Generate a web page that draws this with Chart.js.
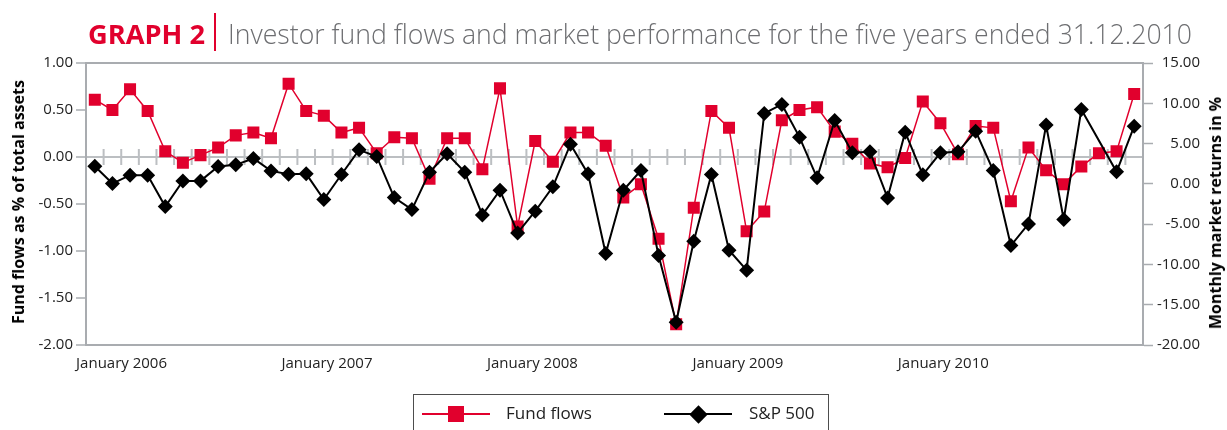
<!DOCTYPE html>
<html>
<head>
<meta charset="utf-8">
<script src="https://cdn.jsdelivr.net/npm/chart.js@4.4.0/dist/chart.umd.min.js"></script>
<style>
  body { margin: 0; background: #fff; font-family: "Open Sans", sans-serif; }
  #wrap { position: relative; width: 1227px; height: 430px; overflow: hidden; }
  #gradesChart { position: absolute; left: 0; top: 0; }
  .title { position: absolute; top: 20px; font-size: 27px; line-height: 27px; white-space: nowrap; transform-origin: left center; }
  #g2 { left: 88px; color: #e1002d; font-weight: 700; }
  #sep { position: absolute; left: 214px; top: 13px; width: 2px; height: 38px; background: #e1002d; }
  #tt { left: 228px; color: #6d6e71; font-weight: 300; }
  .axis-title { position: absolute; font-size: 16px; font-weight: 700; color: #000; white-space: nowrap;
    transform: translate(-50%, -50%) rotate(-90deg); }
  #chart-legend { position: absolute; left: 413px; top: 394px; width: 416px; height: 60px;
    border: 1.5px solid #4d4d4d; box-sizing: border-box; }
  .key-line { position: absolute; height: 2px; top: 18px; }
  .key-mark { position: absolute; }
  .key-text { position: absolute; top: 6px; font-size: 17px; line-height: 24px; color: #222; margin: 0; }
</style>
</head>
<body>
<div id="wrap">
  <canvas id="gradesChart" width="1227" height="430"></canvas>
  <div class="title" id="g2">GRAPH 2</div>
  <div id="sep"></div>
  <div class="title" id="tt">Investor fund flows and market performance for the five years ended 31.12.2010</div>
  <div class="axis-title" style="left:18px; top:202px;">Fund flows as % of total assets</div>
  <div class="axis-title" style="left:1215px; top:213px;">Monthly market returns in %</div>
  <div id="chart-legend"></div>
</div>
<script>
// months Jan 2006 .. Dec 2010
const years = [2006, 2007, 2008, 2009, 2010];
const monthNames = ['January', 'February', 'March', 'April', 'May', 'June',
    'July', 'August', 'September', 'October', 'November', 'December'];
const categories = years.flatMap(y => monthNames.map(m => m + ' ' + y));
const tickLabels = ['January 2006', 'January 2007', 'January 2008', 'January 2009', 'January 2010'];

// fund flows, % of total assets (left axis)
const fundFlows = [0.61, 0.50, 0.72, 0.49, 0.06, -0.06, 0.02, 0.10, 0.23, 0.26,
    0.20, 0.78, 0.49, 0.44, 0.26, 0.31, 0.04, 0.21, 0.20, -0.23,
    0.20, 0.20, -0.13, 0.73, -0.74, 0.17, -0.05, 0.26, 0.26, 0.12,
    -0.43, -0.29, -0.87, -1.78, -0.54, 0.49, 0.31, -0.79, -0.58, 0.39,
    0.50, 0.53, 0.27, 0.14, -0.07, -0.11, -0.01, 0.59, 0.36, 0.03,
    0.33, 0.31, -0.47, 0.10, -0.14, -0.29, -0.10, 0.04, 0.06, 0.67];

// S&P 500 monthly returns in % (right axis)
const sp500 = [2.19, 0.04, 1.08, 1.08, -2.82, 0.37, 0.37, 2.15, 2.36, 3.15,
    1.61, 1.20, 1.24, -1.95, 1.16, 4.22, 3.40, -1.70, -3.19, 1.45,
    3.73, 1.45, -3.85, -0.79, -6.09, -3.40, -0.37, 4.93, 1.24, -8.65,
    -0.79, 1.66, -8.90, -17.18, -7.12, 1.16, -8.24, -10.72, 8.74, 9.86,
    5.80, 0.75, 7.87, 3.85, 3.98, -1.74, 6.42, 1.12, 3.85, 3.98,
    6.54, 1.66, -7.66, -4.97, 7.29, -4.43, 9.23, null, 1.49, 7.16];

const red = '#e1002d';
const black = '#000000';
const axisGrey = '#a9acb0';
const zeroGrey = '#bcbfc2';
const tickFont = { family: '"Open Sans", sans-serif', size: 15 };
const tickColor = '#222';

// grey ticks across the zero line + top frame line
const zeroTicks = {
    id: 'zeroTicks',
    beforeDatasetsDraw(chart) {
        const { ctx, chartArea, scales } = chart;
        const y0 = scales.y.getPixelForValue(0);
        ctx.save();
        ctx.strokeStyle = zeroGrey;
        ctx.lineWidth = 2;
        ctx.beginPath();
        for (let i = 0; i < categories.length - 1; i++) {
            const px = (scales.x.getPixelForValue(i) + scales.x.getPixelForValue(i + 1)) / 2;
            ctx.moveTo(px, y0 - 8);
            ctx.lineTo(px, y0 + 8);
        }
        ctx.stroke();
        ctx.strokeStyle = axisGrey;
        ctx.beginPath();
        ctx.moveTo(chartArea.left, chartArea.top);
        ctx.lineTo(chartArea.right, chartArea.top);
        ctx.stroke();
        ctx.restore();
    }
};

var ctx = document.getElementById('gradesChart').getContext('2d');
var myChart = new Chart(ctx, {
    type: 'line',
    data: {
        labels: categories,
        datasets: [
            { label: 'Fund flows', data: fundFlows, yAxisID: 'y', borderColor: red, backgroundColor: red,
              borderWidth: 1.5, pointStyle: 'rect', pointRadius: 8.5, pointHoverRadius: 8.5,
              pointBorderWidth: 0, order: 2 },
            { label: 'S&P 500', data: sp500, yAxisID: 'y2', borderColor: black, backgroundColor: black,
              borderWidth: 2, pointStyle: 'rectRot', pointRadius: 7.5, pointHoverRadius: 7.5,
              pointBorderWidth: 0, spanGaps: true, order: 1 }
        ]
    },
    options: {
        responsive: false,
        animation: false,
        layout: { padding: { top: 63, right: 27, bottom: 45, left: 0 } },
        plugins: { legend: { display: false }, tooltip: { enabled: false } },
        scales: {
            x: { type: 'category', display: false, offset: true },
            xl: {
                type: 'linear', position: 'bottom', min: -0.173, max: 4.972,
                afterBuildTicks: s => { s.ticks = tickLabels.map((t, i) => ({ value: i })); },
                ticks: { callback: v => tickLabels[v], font: tickFont, color: tickColor,
                         padding: 10, autoSkip: false, maxRotation: 0 },
                grid: { drawOnChartArea: false, drawTicks: false },
                border: { color: axisGrey, width: 2 },
                afterFit: s => { s.height = 40; }
            },
            y: {
                position: 'left', min: -2, max: 1,
                ticks: { stepSize: 0.5, callback: v => v.toFixed(2), font: tickFont, color: tickColor, padding: 3 },
                grid: { color: c => (c.tick && c.tick.value === 0) ? zeroGrey : 'transparent',
                        lineWidth: 2, tickColor: axisGrey, tickLength: 10, tickWidth: 1.5 },
                border: { color: axisGrey, width: 2 },
                afterFit: s => { s.width = 86; }
            },
            y2: {
                position: 'right', min: -20, max: 15,
                ticks: { stepSize: 5, callback: v => v.toFixed(2), font: tickFont, color: tickColor,
                         padding: 4, crossAlign: 'far' },
                grid: { drawOnChartArea: false, tickColor: axisGrey, tickLength: 10, tickWidth: 1.5 },
                border: { color: axisGrey, width: 2 },
                afterFit: s => { s.width = 57; }
            }
        }
    },
    plugins: [zeroTicks]
});

function buildLegend(label, color, style, lineLeft, textLeft) {
    const legendChart = document.getElementById('chart-legend');
    const line = document.createElement('div');
    line.className = 'key-line';
    line.style.left = lineLeft + 'px';
    line.style.width = '68px';
    line.style.background = color;
    legendChart.appendChild(line);

    const mark = document.createElement('div');
    mark.className = 'key-mark';
    mark.style.background = color;
    if (style === 'rect') {
        mark.style.width = '16px'; mark.style.height = '16px';
        mark.style.left = (lineLeft + 26) + 'px'; mark.style.top = '11px';
    } else {
        mark.style.width = '13px'; mark.style.height = '13px';
        mark.style.left = (lineLeft + 27.5) + 'px'; mark.style.top = '12.5px';
        mark.style.transform = 'rotate(45deg)';
    }
    legendChart.appendChild(mark);

    const labelTitle = document.createElement('p');
    labelTitle.className = 'key-text';
    labelTitle.textContent = label;
    labelTitle.style.left = textLeft + 'px';
    legendChart.appendChild(labelTitle);
}
buildLegend('Fund flows', red, 'rect', 8, 92);
buildLegend('S&P 500', black, 'rectRot', 250, 335);

// squeeze title text to the width used in the original
function fitWidth(id, target) {
    const el = document.getElementById(id);
    const w = el.getBoundingClientRect().width;
    el.style.transform = 'scaleX(' + (target / w) + ')';
}
fitWidth('g2', 117);
fitWidth('tt', 964);
</script>
</body>
</html>
